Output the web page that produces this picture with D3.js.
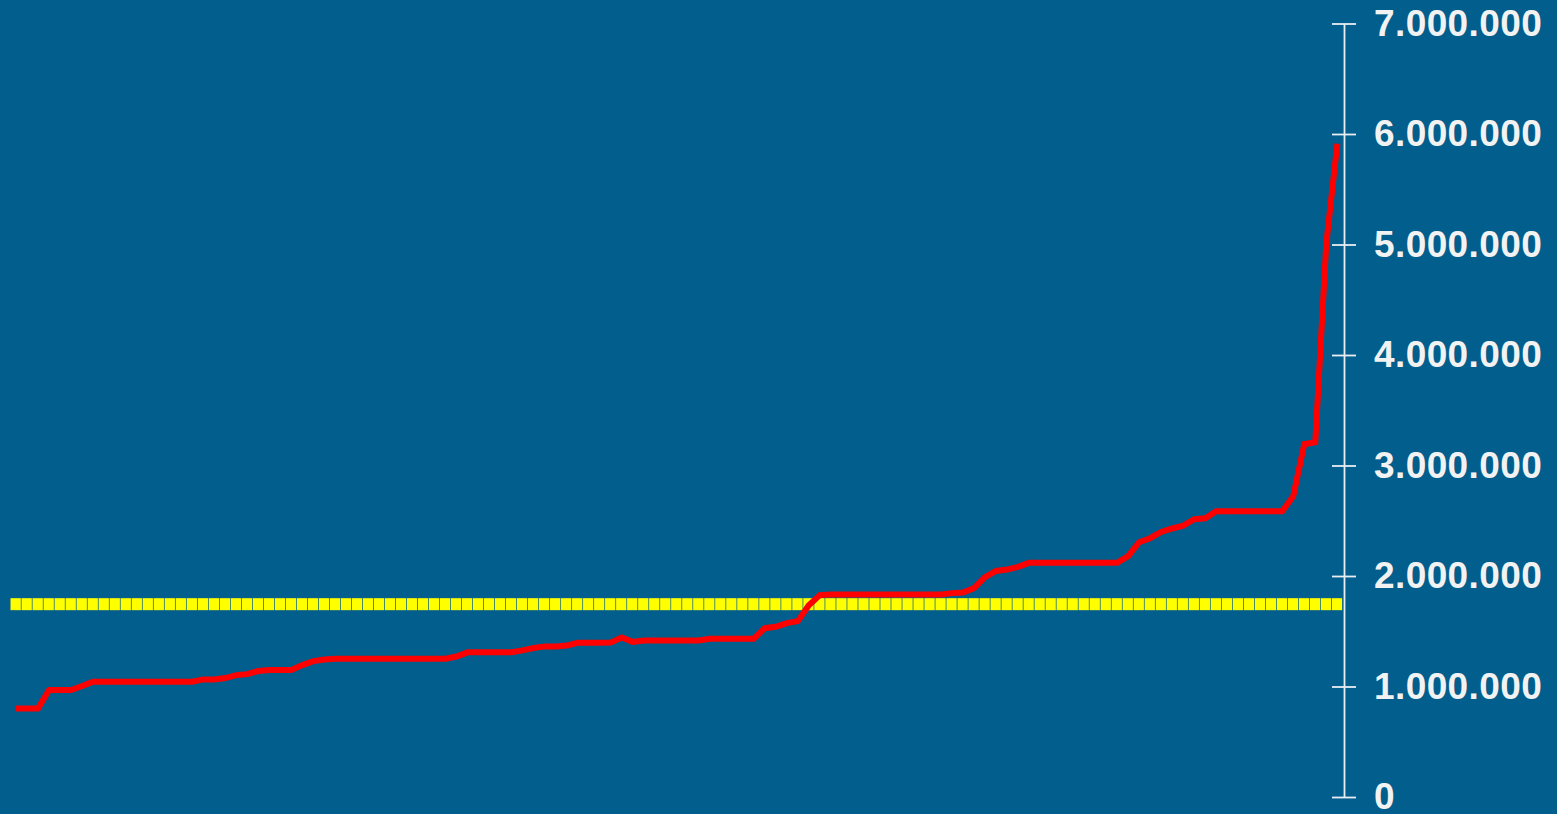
<!DOCTYPE html>
<html>
<head>
<meta charset="utf-8">
<script src="https://cdn.jsdelivr.net/npm/d3@7"></script>
<style>
html,body{margin:0;padding:0;background:#025e8c;overflow:hidden;}
svg{display:block;}
</style>
</head>
<body>
<svg id="chart" width="1557" height="814"></svg>
<script>
// Sorted values (one per entity)
const values = [
  802000, 802000, 802000, 968000, 968000, 968000, 1004000, 1043000, 1043000, 1043000,
  1043000, 1043000, 1043000, 1043000, 1043000, 1043000, 1043000, 1064000, 1064000, 1076000,
  1103000, 1112000, 1140000, 1149000, 1149000, 1149000, 1194000, 1230000, 1245000, 1251000,
  1251000, 1251000, 1251000, 1251000, 1251000, 1251000, 1251000, 1251000, 1251000, 1251000,
  1271000, 1309000, 1309000, 1309000, 1309000, 1310000, 1327000, 1348000, 1363000, 1363000,
  1370000, 1395000, 1395000, 1395000, 1397000, 1444000, 1404000, 1416000, 1417000, 1417000,
  1417000, 1417000, 1417000, 1432000, 1432000, 1432000, 1432000, 1432000, 1528000, 1540000,
  1574000, 1592000, 1736000, 1827000, 1833000, 1833000, 1833000, 1833000, 1833000, 1833000,
  1833000, 1833000, 1833000, 1833000, 1833000, 1845000, 1851000, 1890000, 1990000, 2046000,
  2058000, 2083000, 2119000, 2119000, 2119000, 2119000, 2119000, 2119000, 2119000, 2119000,
  2119000, 2180000, 2306000, 2342000, 2399000, 2430000, 2455000, 2514000, 2523000, 2587000,
  2587000, 2587000, 2587000, 2587000, 2587000, 2587000, 2722000, 3193000, 3211000, 5010000,
  5912000
];
const categories = values.map((d, i) => i + 1);
const averageValue = 1745000;
const tickValues = [0, 1000000, 2000000, 3000000, 4000000, 5000000, 6000000, 7000000];
const tickLabels = ["0", "1.000.000", "2.000.000", "3.000.000", "4.000.000", "5.000.000", "6.000.000", "7.000.000"];

const svg = d3.select("#chart");
svg.append("rect").attr("width", 1557).attr("height", 814).attr("fill", "#025e8c");

const x = d3.scalePoint().domain(categories).range([16, 1337.3]);
const y = d3.scaleLinear().domain([0, 7000000]).range([797, 23.5]);
const step = x.step();

// average line as yellow squares
svg.append("g").selectAll("rect")
  .data(categories)
  .join("rect")
  .attr("x", d => x(d) - step / 2)
  .attr("width", step - 0.7)
  .attr("y", y(averageValue) - 6)
  .attr("height", 12)
  .attr("fill", "#ffff00");

// red line
const line = d3.line().x((d, i) => x(categories[i])).y(d => y(d));
svg.append("path")
  .datum(values)
  .attr("d", line)
  .attr("fill", "none")
  .attr("stroke", "#ff0000")
  .attr("stroke-width", 6)
  .attr("stroke-linejoin", "miter");

// right axis
const axis = d3.axisRight(y)
  .tickValues(tickValues)
  .tickFormat((d, i) => tickLabels[i])
  .tickSizeInner(12)
  .tickSizeOuter(0)
  .tickPadding(18);
const ag = svg.append("g").attr("transform", "translate(1344,0)").call(axis);
ag.select(".domain").attr("stroke", "#e8eef2").attr("stroke-width", 1.8);
ag.selectAll(".tick line").attr("x1", -12).attr("x2", 12).attr("stroke", "#e8eef2").attr("stroke-width", 1.8);
ag.selectAll(".tick text")
  .attr("x", 30)
  .attr("fill", "#f2f2f2")
  .style("font-family", "'Liberation Sans', Arial, sans-serif")
  .style("font-weight", "bold")
  .style("font-size", "37px")
  .style("letter-spacing", "0.4px");
</script>
</body>
</html>
